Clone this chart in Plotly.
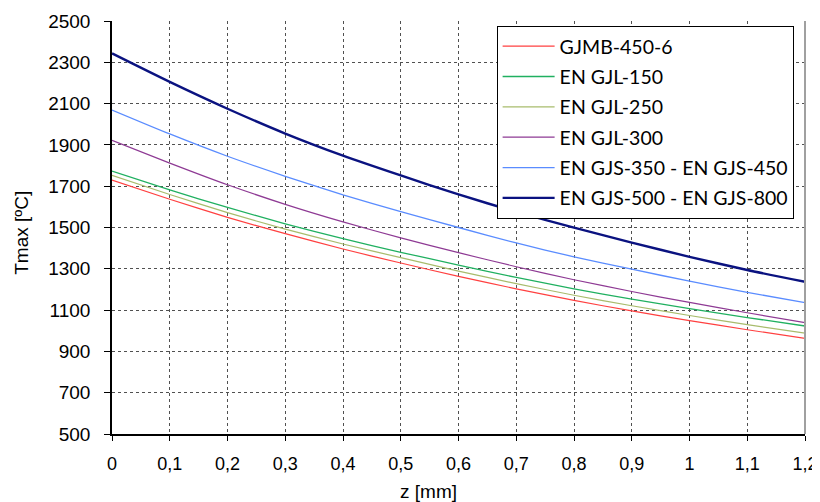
import plotly.graph_objects as go

z_mm = [0, 0.1, 0.2, 0.3, 0.4, 0.5, 0.6, 0.7, 0.8, 0.9, 1.0, 1.1, 1.2]

series_names = ["GJMB-450-6", "EN GJL-150", "EN GJL-250", "EN GJL-300",
                "EN GJS-350 - EN GJS-450", "EN GJS-500 - EN GJS-800"]

t_gjmb_450_6 = [1730, 1637, 1549, 1470, 1396, 1328, 1263, 1203, 1147, 1096, 1049, 1005, 963]
t_gjl_150 = [1773, 1682, 1597, 1518, 1446, 1380, 1318, 1258, 1203, 1153, 1107, 1064, 1023]
t_gjl_250 = [1753, 1660, 1572, 1492, 1420, 1354, 1289, 1228, 1172, 1121, 1074, 1030, 988]
t_gjl_300 = [1922, 1812, 1707, 1612, 1527, 1450, 1378, 1310, 1247, 1190, 1137, 1087, 1039]
t_gjs_350_450 = [2069, 1953, 1845, 1748, 1658, 1577, 1500, 1425, 1358, 1298, 1240, 1186, 1136]
t_gjs_500_800 = [2343, 2205, 2075, 1955, 1848, 1752, 1660, 1576, 1499, 1427, 1358, 1294, 1237]

y_ticks = [500, 700, 900, 1100, 1300, 1500, 1700, 1900, 2100, 2300, 2500]

series_values = [t_gjmb_450_6, t_gjl_150, t_gjl_250, t_gjl_300, t_gjs_350_450, t_gjs_500_800]
colors = ["#FF4040", "#20B060", "#A8BC6C", "#8E3A94", "#5A8CFF", "#0A1280"]
widths = [1.2, 1.3, 1.2, 1.2, 1.3, 2.4]

fig = go.Figure()
for i, (name, vals) in enumerate(zip(series_names, series_values)):
    fig.add_trace(go.Scatter(
        x=z_mm, y=vals, mode="lines", name=name,
        legendgroup=f"g{i}",
        line=dict(color=colors[i], width=widths[i], shape="spline", smoothing=0.6),
    ))

grid_color = "#505050"
fig.update_layout(
    width=812, height=494,
    margin=dict(l=104, r=15, t=13, b=68),
    paper_bgcolor="white", plot_bgcolor="white",
    separators=", ",
    font=dict(family="Liberation Sans", size=18, color="black"),
    showlegend=True,
    legend=dict(
        x=0.555, xanchor="left", y=0.988, yanchor="top",
        bgcolor="white", bordercolor="black", borderwidth=1,
        font=dict(family="Lato", size=19.5, color="black"),
        tracegroupgap=2, itemwidth=52,
    ),
    xaxis=dict(
        range=[0, 1.2], dtick=0.1, tick0=0, automargin=False,
        showgrid=True, gridcolor=grid_color, griddash="dot", gridwidth=1,
        showline=True, linecolor="black", linewidth=1.5,
        ticks="outside", ticklen=5, tickcolor="black",
        tickfont=dict(size=18), zeroline=False, ticklabelstandoff=8,
    ),
    yaxis=dict(
        range=[500, 2500], tickvals=y_ticks, automargin=False,
        showgrid=True, gridcolor=grid_color, griddash="dot", gridwidth=1,
        showline=True, linecolor="black", linewidth=1.5,
        ticks="outside", ticklen=6, tickcolor="black",
        tickfont=dict(size=19), zeroline=False, ticklabelstandoff=10,
    ),
)

fig.add_shape(type="line", xref="paper", yref="paper", x0=1, x1=1, y0=0, y1=1,
              line=dict(color="#A0A0A0", width=2))

fig.add_annotation(text="z [mm]", xref="paper", yref="paper", x=0.456, y=0,
                   yshift=-57, xanchor="center", yanchor="middle", showarrow=False,
                   font=dict(size=19))

fig.add_annotation(text="Tmax [ºC]", xref="paper", yref="paper", x=-0.13, y=0.487,
                   textangle=-90, xanchor="center", yanchor="middle", showarrow=False,
                   font=dict(size=19))

fig.write_html("out.html")
